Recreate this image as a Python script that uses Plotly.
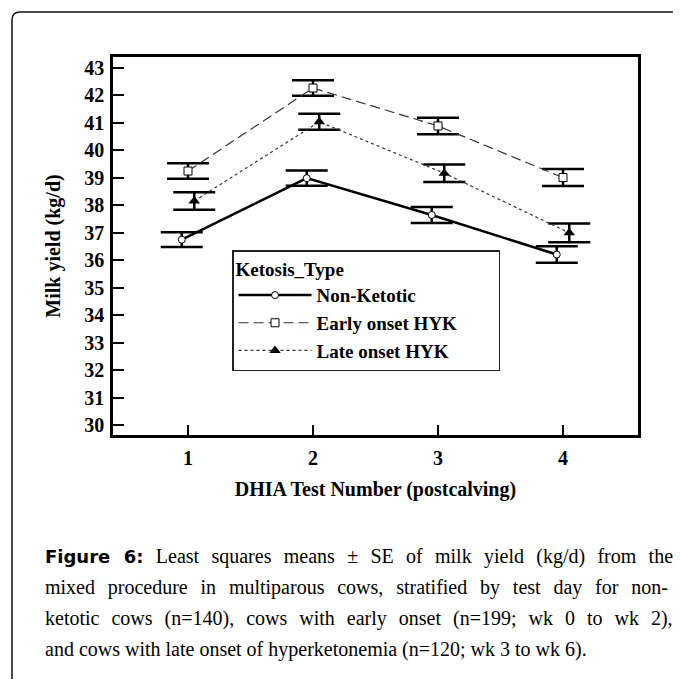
import plotly.graph_objects as go

# ---------------- data ----------------
test_number = [1, 2, 3, 4]
x_tick_labels = ["1", "2", "3", "4"]
y_ticks = list(range(30, 44))

series_names = ["Non-Ketotic", "Early onset HYK", "Late onset HYK"]
non_ketotic_mean = [36.75, 38.99, 37.65, 36.21]
non_ketotic_se = [0.27, 0.28, 0.29, 0.30]
early_onset_mean = [39.25, 42.27, 40.89, 39.01]
early_onset_se = [0.28, 0.28, 0.30, 0.31]
late_onset_mean = [38.16, 41.04, 39.17, 37.00]
late_onset_se = [0.32, 0.29, 0.32, 0.34]
dodge = [-0.05, 0.0, 0.05]  # horizontal offset used in the figure

# ---------------- geometry helpers ----------------
# the page body has an 8px margin, so figure pixel = screen pixel - 8
OFF = 8
W, H = 665, 671
ML, MR, MT, MB = 105, 35, 49, 244
PW, PH = W - ML - MR, H - MT - MB


def px(xs):
    return (xs - OFF - ML) / PW


def py(ys):
    return (H - MB - (ys - OFF)) / PH


SERIF = "Liberation Serif"
fig = go.Figure()

styles = [
    dict(line=dict(color="black", width=2.5, dash="solid"),
         marker=dict(symbol="circle", size=7, color="white", line=dict(color="black", width=1))),
    dict(line=dict(color="#333333", width=1.2, dash="10px,5px"),
         marker=dict(symbol="square", size=8, color="white", line=dict(color="black", width=1))),
    dict(line=dict(color="#333333", width=1.2, dash="3px,3px"),
         marker=dict(symbol="triangle-up", size=10, color="black", line=dict(color="black", width=0))),
]
means = [non_ketotic_mean, early_onset_mean, late_onset_mean]
ses = [non_ketotic_se, early_onset_se, late_onset_se]

for name, m, s, d, st in zip(series_names, means, ses, dodge, styles):
    fig.add_trace(go.Scatter(
        x=[t + d for t in test_number], y=m, name=name,
        mode="lines+markers",
        line=st["line"], marker=st["marker"],
        error_y=dict(type="data", array=s, visible=True, color="black",
                     thickness=2.5, width=21),
    ))

axis_font = dict(family=SERIF, size=20, color="black", weight="bold")

fig.update_xaxes(
    range=[0.4, 4.6], tickvals=test_number, ticktext=x_tick_labels,
    ticks="inside", ticklen=10, tickwidth=2, tickcolor="black",
    showline=True, linewidth=2.5, linecolor="black", mirror=True,
    showgrid=False, zeroline=False, tickfont=axis_font,
    ticklabelstandoff=3,
    title=dict(text="DHIA Test Number (postcalving)", font=axis_font, standoff=15),
)
fig.update_yaxes(
    range=[29.64, 43.4], tickvals=y_ticks,
    ticks="inside", ticklen=11, tickwidth=2, tickcolor="black",
    showline=True, linewidth=2.5, linecolor="black", mirror=True,
    showgrid=False, zeroline=False, tickfont=axis_font,
    ticklabelstandoff=2,
    title=dict(text="Milk yield (kg/d)", font=axis_font, standoff=19),
)

# outer page border (rounded corner at top-left)
r = 8
x0, y0 = 12, 12
border_path = (f"M {px(x0)} {py(720)} L {px(x0)} {py(y0 + r)} "
               f"Q {px(x0)} {py(y0)} {px(x0 + r)} {py(y0)} L {px(720)} {py(y0)}")
fig.add_shape(type="path", path=border_path, xref="paper", yref="paper",
              line=dict(color="#111111", width=1.5), layer="above")

# caption
cap_font = dict(family=SERIF, size=20, color="black")
cap_lines = [
    '<span style="font-family:DejaVu Sans;font-weight:bold;font-size:18px">Figure 6:</span>'
    ' Least squares means ± SE of milk yield (kg/d) from the',
    "mixed procedure in multiparous cows, stratified by test day for non-",
    "ketotic cows (n=140), cows with early onset (n=199; wk 0 to wk 2),",
    "and cows with late onset of hyperketonemia (n=120; wk 3 to wk 6).",
]
word_spacing = [7.3, 7.8, 7, 0]
for i, t in enumerate(cap_lines):
    fig.add_annotation(text=f'<span style="word-spacing:{word_spacing[i]}px">{t}</span>',
                       x=px(43), y=py(556 + 31 * i), xref="paper", yref="paper",
                       xanchor="left", yanchor="middle", showarrow=False, font=cap_font,
                       align="left")

fig.update_layout(
    width=W, height=H,
    margin=dict(l=ML, r=MR, t=MT, b=MB, autoexpand=False),
    paper_bgcolor="white", plot_bgcolor="white",
    legend=dict(
        x=px(232), y=py(250), xanchor="left", yanchor="top",
        bgcolor="white", bordercolor="#222222", borderwidth=1.5,
        font=dict(family=SERIF, size=19, color="black", weight="bold"),
        title=dict(text="Ketosis_Type" + "&nbsp;" * 32,
                   font=dict(family=SERIF, size=19, color="black", weight="bold")),
        itemwidth=73, tracegroupgap=0,
    ),
)

fig.write_html("out.html")
